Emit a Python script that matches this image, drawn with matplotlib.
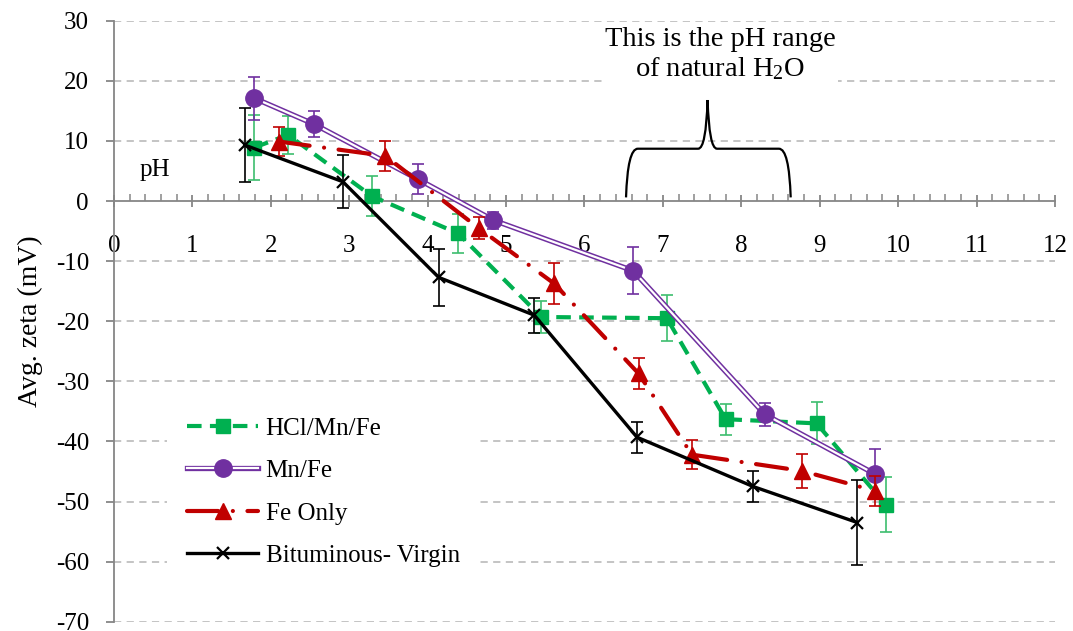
import matplotlib
matplotlib.use("Agg")
import matplotlib.pyplot as plt
import numpy as np
from matplotlib.path import Path
from matplotlib.patches import PathPatch
from matplotlib.ticker import MultipleLocator

plt.rcParams['font.family'] = ['Liberation Serif', 'DejaVu Serif']
plt.rcParams['mathtext.fontset'] = 'custom'
plt.rcParams['mathtext.rm'] = 'Liberation Serif'
plt.rcParams['mathtext.it'] = 'Liberation Serif:italic'
plt.rcParams['axes.unicode_minus'] = False

# zeta potential vs pH for each carbon treatment
hcl_ph = [1.79, 2.22, 3.29, 4.39, 5.45, 7.05, 7.80, 8.96, 9.84]
hcl_zeta = [8.9, 11.0, 0.8, -5.4, -19.3, -19.5, -36.3, -37.0, -50.5]
hcl_err = [5.4, 3.2, 3.3, 3.2, 2.6, 3.8, 2.6, 3.5, 4.6]

mnfe_ph = [1.79, 2.55, 3.88, 4.84, 6.62, 8.30, 9.70]
mnfe_zeta = [17.1, 12.8, 3.6, -3.2, -11.6, -35.5, -45.4]
mnfe_err = [3.6, 2.1, 2.5, 1.4, 3.9, 1.9, 4.2]

fe_ph = [2.10, 3.46, 4.65, 5.61, 6.69, 7.37, 8.77, 9.70]
fe_zeta = [9.9, 7.5, -4.5, -13.7, -28.7, -42.2, -44.9, -48.2]
fe_err = [2.4, 2.5, 1.9, 3.4, 2.5, 2.4, 2.8, 2.5]

bit_ph = [1.67, 2.92, 4.14, 5.36, 6.67, 8.15, 9.48]
bit_zeta = [9.3, 3.2, -12.7, -19.0, -39.3, -47.5, -53.5]
bit_err = [6.1, 4.4, 4.7, 2.9, 2.6, 2.6, 7.1]

green = "#00B050"
purple = "#7030A0"
red = "#C00000"
axis_gray = "#868686"

fig = plt.figure(figsize=(10.73, 6.31), dpi=100)
ax = fig.add_axes([0.1062, 0.0147, 0.877, 0.9525])

ax.set_xlim(0, 12)
ax.set_ylim(-70, 30)

# horizontal dashed gridlines
for gy in range(-70, 31, 10):
    if gy != 0:
        ax.axhline(gy, color="#BFBFBF", lw=1.3, ls=(0, (4, 3)), zorder=0)

ebkw = dict(fmt="none", elinewidth=1.2, capsize=4.5, capthick=1.2)

# HCl/Mn/Fe
ax.errorbar(hcl_ph, hcl_zeta, yerr=hcl_err, ecolor="#3DBE6E", zorder=2, **ebkw)
l_hcl, = ax.plot(hcl_ph, hcl_zeta, color=green, lw=3, dashes=(3.5, 2),
                 marker="s", ms=9.5, zorder=3, label="HCl/Mn/Fe")

# Mn/Fe, double line
ax.errorbar(mnfe_ph, mnfe_zeta, yerr=mnfe_err, ecolor=purple, zorder=4, **ebkw)
ax.plot(mnfe_ph, mnfe_zeta, color=purple, lw=3.8, zorder=5, solid_joinstyle="miter")
ax.plot(mnfe_ph, mnfe_zeta, color="white", lw=1.6, zorder=5.1, solid_joinstyle="miter")
ax.plot(mnfe_ph, mnfe_zeta, ls="none", marker="o", ms=12.5, color=purple, zorder=5.2)

# Fe only
ax.errorbar(fe_ph, fe_zeta, yerr=fe_err, ecolor=red, zorder=6, **ebkw)
l_fe, = ax.plot(fe_ph, fe_zeta, color=red, lw=3, dashes=(7.5, 3.5, 0.01, 3.5),
                dash_capstyle="round", marker="^", ms=11, zorder=7, label="Fe Only")

# Bituminous virgin
ax.errorbar(bit_ph, bit_zeta, yerr=bit_err, ecolor="black", zorder=8, **ebkw)
l_bit, = ax.plot(bit_ph, bit_zeta, color="black", lw=2.4, marker="x", ms=9,
                 mew=1.6, zorder=9, label="Bituminous- Virgin")

# axes styling: x axis crosses at zeta = 0
ax.spines["top"].set_visible(False)
ax.spines["right"].set_visible(False)
ax.spines["bottom"].set_position(("data", 0))
for s in ("left", "bottom"):
    ax.spines[s].set_color(axis_gray)
    ax.spines[s].set_linewidth(1.3)

ax.xaxis.set_major_locator(MultipleLocator(1))
ax.xaxis.set_minor_locator(MultipleLocator(0.2))
ax.yaxis.set_major_locator(MultipleLocator(10))
ax.tick_params(axis="x", which="major", direction="inout", length=9, width=1.3,
               color=axis_gray, labelsize=18, pad=20)
ax.tick_params(axis="x", which="minor", direction="in", length=5, width=1.1,
               color=axis_gray)
ax.tick_params(axis="y", which="major", direction="out", length=6, width=1.3,
               color=axis_gray, labelsize=18, pad=12)

ax.set_ylabel("Avg. zeta (mV)", fontsize=20, labelpad=9)
ax.text(0.52, 5.2, "pH", fontsize=18, ha="center", va="center")

# brace marking the natural water pH range
bx0, bx1, bxm = 6.53, 8.63, 7.57
by0, byh, byt = 0.6, 8.7, 16.8
verts = [(bx0, by0), (bx0 + 0.02, byh), (bx0 + 0.15, byh),
         (bxm - 0.12, byh),
         (bxm - 0.02, byh), (bxm, byt),
         (bxm + 0.02, byh), (bxm + 0.12, byh),
         (bx1 - 0.15, byh),
         (bx1 - 0.02, byh), (bx1, by0)]
codes = [Path.MOVETO, Path.CURVE3, Path.CURVE3,
         Path.LINETO,
         Path.CURVE3, Path.CURVE3,
         Path.CURVE3, Path.CURVE3,
         Path.LINETO,
         Path.CURVE3, Path.CURVE3]
ax.add_patch(PathPatch(Path(verts, codes), fill=False, lw=1.6, color="black", zorder=10))

ax.text(7.73, 24.3, "This is the pH range\nof natural H$_2$O", fontsize=20.5,
        ha="center", va="center", linespacing=1.15, zorder=10,
        bbox=dict(facecolor="white", edgecolor="none", pad=2))

# legend, with a double-line handle for Mn/Fe
h_mn_outer, = ax.plot([], [], color=purple, lw=3.8)
h_mn_inner, = ax.plot([], [], color="white", lw=1.6)
h_mn_mark, = ax.plot([], [], ls="none", marker="o", ms=12.5, color=purple)
leg = ax.legend([l_hcl, (h_mn_outer, h_mn_inner, h_mn_mark), l_fe, l_bit],
                ["HCl/Mn/Fe", "Mn/Fe", "Fe Only", "Bituminous- Virgin"],
                loc="upper left", bbox_to_anchor=(0.1556, 0.3708),
                bbox_transform=fig.transFigure, fontsize=18, frameon=True,
                facecolor="white", edgecolor="none", framealpha=1, fancybox=False,
                borderpad=0.8, borderaxespad=0, handlelength=2.85,
                handletextpad=0.3, labelspacing=0.8)
leg.set_zorder(20)

fig.savefig("out.png", dpi=100)
